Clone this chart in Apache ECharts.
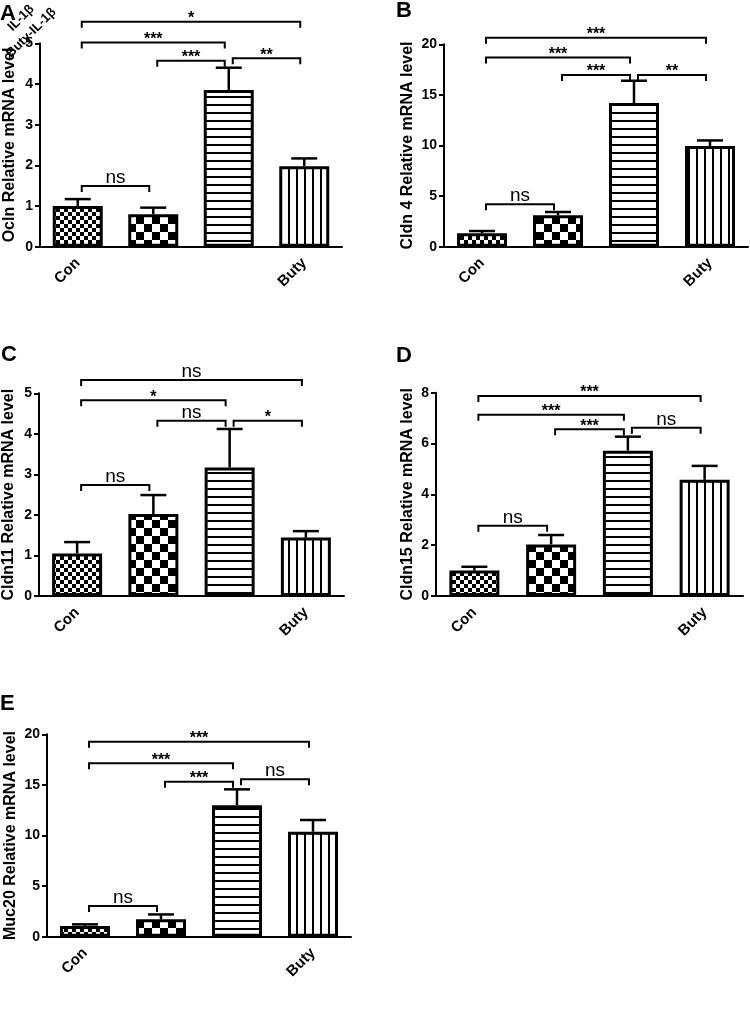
<!DOCTYPE html>
<html><head><meta charset="utf-8">
<script src="https://cdn.jsdelivr.net/npm/echarts@6/dist/echarts.min.js"></script>
<style>html,body{margin:0;padding:0;background:#fff}#c{width:750px;height:1009px}</style>
</head><body><div id="c"></div>
<script>
// ---------- data ----------
const categories = ['Con', 'IL-1β', 'Buty-IL-1β', 'Buty'];
const panelLetters = ['A', 'B', 'C', 'D', 'E'];
const yTitles = ['Ocln Relative mRNA level', 'Cldn 4 Relative mRNA level', 'Cldn11 Relative mRNA level', 'Cldn15 Relative mRNA level', 'Muc20 Relative mRNA level'];
const yMax = [5, 20, 5, 8, 20];
const yInterval = [1, 5, 1, 2, 5];

const meansA = [1.0, 0.80, 3.85, 1.98];
const errTopA = [1.17, 0.96, 4.40, 2.17];
const meansB = [1.32, 3.10, 14.2, 9.95];
const errTopB = [1.55, 3.43, 16.4, 10.5];
const meansC = [1.05, 2.02, 3.17, 1.44];
const errTopC = [1.33, 2.49, 4.12, 1.60];
const meansD = [1.0, 2.03, 5.72, 4.57];
const errTopD = [1.15, 2.40, 6.27, 5.12];
const meansE = [1.06, 1.72, 13.0, 10.37];
const errTopE = [1.22, 2.20, 14.56, 11.53];

// [from index, to index, bracket height (data units), label]
const bracketsA = [[0, 1, 1.49, 'ns'], [0, 2, 5.02, '***'], [1, 2, 4.57, '***'], [2, 3, 4.63, '**'], [0, 3, 5.53, '*']];
const bracketsB = [[0, 1, 4.19, 'ns'], [0, 2, 18.7, '***'], [1, 2, 16.97, '***'], [2, 3, 16.97, '**'], [0, 3, 20.65, '***']];
const bracketsC = [[0, 1, 2.74, 'ns'], [0, 2, 4.83, '*'], [1, 2, 4.32, 'ns'], [2, 3, 4.32, '*'], [0, 3, 5.33, 'ns']];
const bracketsD = [[0, 1, 2.76, 'ns'], [0, 2, 7.13, '***'], [1, 2, 6.56, '***'], [2, 3, 6.62, 'ns'], [0, 3, 7.87, '***']];
const bracketsE = [[0, 1, 3.03, 'ns'], [0, 2, 17.13, '***'], [1, 2, 15.3, '***'], [2, 3, 15.55, 'ns'], [0, 3, 19.27, '***']];

const allMeans = [meansA, meansB, meansC, meansD, meansE];
const allTops = [errTopA, errTopB, errTopC, errTopD, errTopE];
const allBrackets = [bracketsA, bracketsB, bracketsC, bracketsD, bracketsE];

// ---------- layout / style ----------
const FONT = "'Liberation Sans', Arial, sans-serif";
const gridBoxes = [
  { left: 40, top: 43.3, width: 302, height: 203.4 },
  { left: 444, top: 44.3, width: 304, height: 202.4 },
  { left: 39, top: 393.3, width: 305, height: 202.7 },
  { left: 436, top: 392.7, width: 307, height: 203.3 },
  { left: 47, top: 734.3, width: 304, height: 202.4 }
];
const nameGaps = [22, 28, 22, 20, 28];
const letterPos = [[0, 3], [396, 0], [1, 344], [396, 345], [0, 693]];

function makePattern(kind) {
  const c = document.createElement('canvas');
  const ctx = c.getContext('2d');
  if (kind === 'fine') {
    c.width = c.height = 8;
    ctx.fillStyle = '#fff'; ctx.fillRect(0, 0, 8, 8);
    ctx.fillStyle = '#000'; ctx.fillRect(0, 0, 4, 4); ctx.fillRect(4, 4, 4, 4);
  } else if (kind === 'coarse') {
    c.width = c.height = 16;
    ctx.fillStyle = '#fff'; ctx.fillRect(0, 0, 16, 16);
    ctx.fillStyle = '#000'; ctx.fillRect(0, 0, 8, 8); ctx.fillRect(8, 8, 8, 8);
  } else if (kind === 'hline') {
    c.width = 8; c.height = 8;
    ctx.fillStyle = '#fff'; ctx.fillRect(0, 0, 8, 8);
    ctx.fillStyle = '#000'; ctx.fillRect(0, 0, 8, 2);
  } else {
    c.width = 8; c.height = 8;
    ctx.fillStyle = '#fff'; ctx.fillRect(0, 0, 8, 8);
    ctx.fillStyle = '#000'; ctx.fillRect(0, 0, 2, 8);
  }
  return { image: c, repeat: 'repeat' };
}
const patterns = [makePattern('fine'), makePattern('coarse'), makePattern('hline'), makePattern('vline')];

function errRender(params, api) {
  const x = api.value(0), m = api.value(1), t = api.value(2);
  const p0 = api.coord([x, m]), p1 = api.coord([x, t]);
  const half = 13;
  return {
    type: 'group', children: [
      { type: 'line', shape: { x1: p0[0], y1: p0[1], x2: p1[0], y2: p1[1] }, style: { stroke: '#000', lineWidth: 2.5 } },
      { type: 'line', shape: { x1: p1[0] - half, y1: p1[1], x2: p1[0] + half, y2: p1[1] }, style: { stroke: '#000', lineWidth: 2.5 } }
    ]
  };
}

function bracketRender(labels) {
  return function (params, api) {
    const i = api.value(0), j = api.value(1), v = api.value(2);
    const p1 = api.coord([i, v]), p2 = api.coord([j, v]);
    const x1 = p1[0] + 4, x2 = p2[0] - 4, yy = p1[1];
    const leg = 6;
    const lab = labels[params.dataIndex];
    const isNs = lab === 'ns';
    return {
      type: 'group', children: [
        { type: 'polyline', shape: { points: [[x1, yy + leg], [x1, yy], [x2, yy], [x2, yy + leg]] }, style: { stroke: '#000', lineWidth: 2, fill: null } },
        { type: 'text', x: (x1 + x2) / 2, y: isNs ? yy + 1 : yy + 5,
          style: { text: lab, align: 'center', verticalAlign: 'bottom', fill: '#000',
            font: isNs ? ('19px ' + FONT) : ('bold 16px ' + FONT) } }
      ]
    };
  };
}

const grid = [], xAxis = [], yAxis = [], series = [], graphic = [];
for (let k = 0; k < 5; k++) {
  grid.push(Object.assign({ outerBoundsMode: 'none', containLabel: false }, gridBoxes[k]));
  xAxis.push({
    type: 'category', gridIndex: k, data: categories,
    axisLine: { lineStyle: { color: '#000', width: 2 } },
    axisTick: { alignWithLabel: true, length: 5, lineStyle: { color: '#000', width: 2 } },
    axisLabel: { interval: 0, rotate: 45, margin: 14, color: '#000', fontFamily: FONT, fontWeight: 'bold', fontSize: 15,
      formatter: function (v, i) { return (i === 0 || i === 3) ? v : ''; } },
    splitLine: { show: false }
  });
  yAxis.push({
    type: 'value', gridIndex: k, min: 0, max: yMax[k], interval: yInterval[k],
    name: yTitles[k], nameLocation: 'middle', nameGap: nameGaps[k], nameRotate: 90,
    nameTextStyle: { color: '#000', fontFamily: FONT, fontWeight: 'bold', fontSize: 16 },
    axisLine: { show: true, lineStyle: { color: '#000', width: 2 } },
    axisTick: { show: true, length: 5, lineStyle: { color: '#000', width: 2 } },
    axisLabel: { margin: 7, color: '#000', fontFamily: FONT, fontWeight: 'bold', fontSize: 14 },
    splitLine: { show: false }
  });
  series.push({
    type: 'bar', xAxisIndex: k, yAxisIndex: k, barWidth: 50, silent: true, animation: false,
    data: allMeans[k].map(function (m, i) {
      return { value: m, itemStyle: { color: patterns[i], borderColor: '#000', borderWidth: 3 } };
    })
  });
  series.push({
    type: 'custom', xAxisIndex: k, yAxisIndex: k, renderItem: errRender, animation: false, silent: true, z: 3,
    encode: { x: 0, y: 2 },
    data: allMeans[k].map(function (m, i) { return [i, m, allTops[k][i]]; })
  });
  series.push({
    type: 'custom', xAxisIndex: k, yAxisIndex: k, renderItem: bracketRender(allBrackets[k].map(function (b) { return b[3]; })),
    animation: false, silent: true, clip: false, z: 4,
    encode: { x: 0, y: 2 },
    data: allBrackets[k].map(function (b) { return [b[0], b[1], b[2]]; })
  });
  graphic.push({
    type: 'text', x: letterPos[k][0], y: letterPos[k][1], z: 10,
    style: { text: panelLetters[k], fill: '#000', font: 'bold 22px ' + FONT, verticalAlign: 'top', align: 'left' }
  });
}
// misplaced middle category labels of panel A (top-left corner)
graphic.push({ type: 'text', x: 32, y: 7, rotation: Math.PI / 4, z: 10,
  style: { text: categories[1], fill: '#000', font: 'bold 13px ' + FONT, align: 'right', verticalAlign: 'middle' } });
graphic.push({ type: 'text', x: 54, y: 10, rotation: Math.PI / 4, z: 10,
  style: { text: categories[2], fill: '#000', font: 'bold 13px ' + FONT, align: 'right', verticalAlign: 'middle' } });

const chart = echarts.init(document.getElementById('c'), null, { renderer: 'canvas' });
chart.setOption({ animation: false, backgroundColor: '#fff', grid: grid, xAxis: xAxis, yAxis: yAxis, series: series, graphic: graphic });
</script>
</body></html>
